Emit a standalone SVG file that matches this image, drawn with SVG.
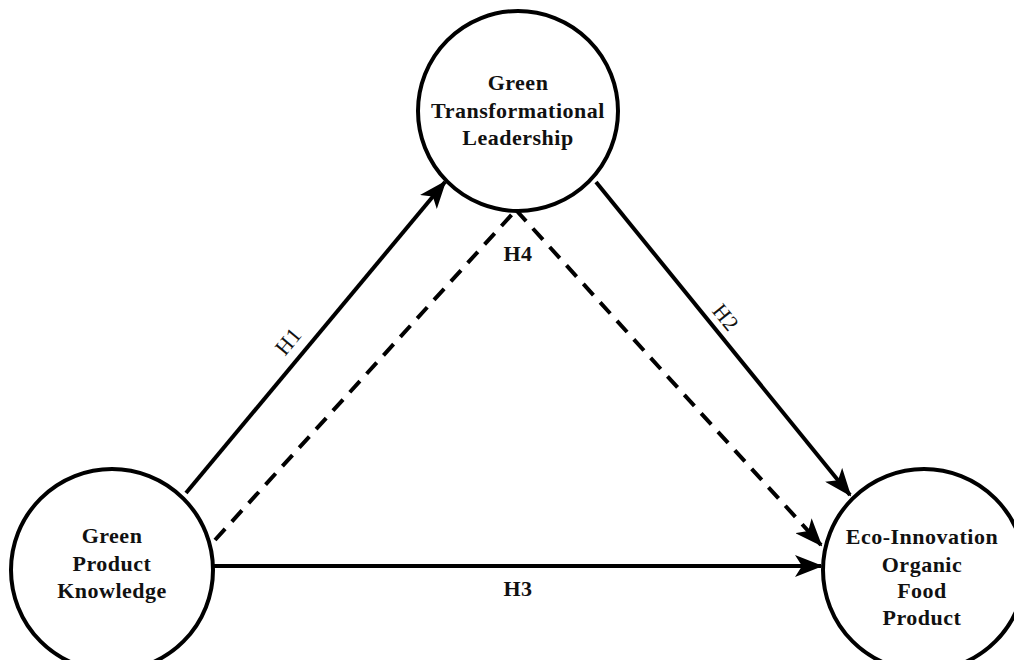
<svg xmlns="http://www.w3.org/2000/svg" width="1014" height="660" viewBox="0 0 1014 660">
<style>
.node{fill:#fff;stroke:#000;stroke-width:4}
.t{font-family:"Liberation Serif","Times New Roman",serif;font-weight:bold;font-size:22px;letter-spacing:0.5px;text-anchor:middle;fill:#111}
.lab{font-family:"Liberation Serif","Times New Roman",serif;font-size:22px;letter-spacing:0.5px;text-anchor:middle;fill:#111}
.e{stroke:#000;stroke-width:4;fill:none}
.d{stroke-dasharray:15 10}
</style>
<defs>
<marker id="ah" markerUnits="userSpaceOnUse" markerWidth="28" markerHeight="22" viewBox="0 0 28 22" refX="26" refY="11" orient="auto">
<path d="M0,0 L28,11 L0,22 L7,11 Z" fill="#000"/>
</marker>
</defs>
<rect width="1014" height="660" fill="#fff"/>
<g id="connectors">
<line class="e" x1="186" y1="493" x2="445" y2="182" marker-end="url(#ah)"/>
<line class="e" x1="596" y1="182" x2="850" y2="495" marker-end="url(#ah)"/>
<line class="e" x1="213" y1="566" x2="821" y2="566" marker-end="url(#ah)"/>
<path class="e d" d="M215,540 L516,210"/>
<path class="e d" d="M516,210 L821,545" marker-end="url(#ah)"/>
<text class="lab" transform="translate(294,346) rotate(-50)">H1</text>
<text class="lab" transform="translate(720,322) rotate(51)">H2</text>
<text class="t" x="518" y="596">H3</text>
<text class="t" x="518" y="261">H4</text>
</g>
<g id="gtl">
<circle class="node" cx="518" cy="111" r="100"/>
<text class="t" x="518" y="90">Green</text>
<text class="t" x="518" y="118">Transformational</text>
<text class="t" x="518" y="145">Leadership</text>
</g>
<g id="gpk">
<circle class="node" cx="112" cy="570" r="101"/>
<text class="t" x="112" y="543">Green</text>
<text class="t" x="112" y="571">Product</text>
<text class="t" x="112" y="598">Knowledge</text>
</g>
<g id="eio">
<circle class="node" cx="924" cy="570" r="101"/>
<text class="t" x="922" y="544">Eco-Innovation</text>
<text class="t" x="922" y="572">Organic</text>
<text class="t" x="922" y="598">Food</text>
<text class="t" x="922" y="625">Product</text>
</g>
</svg>
